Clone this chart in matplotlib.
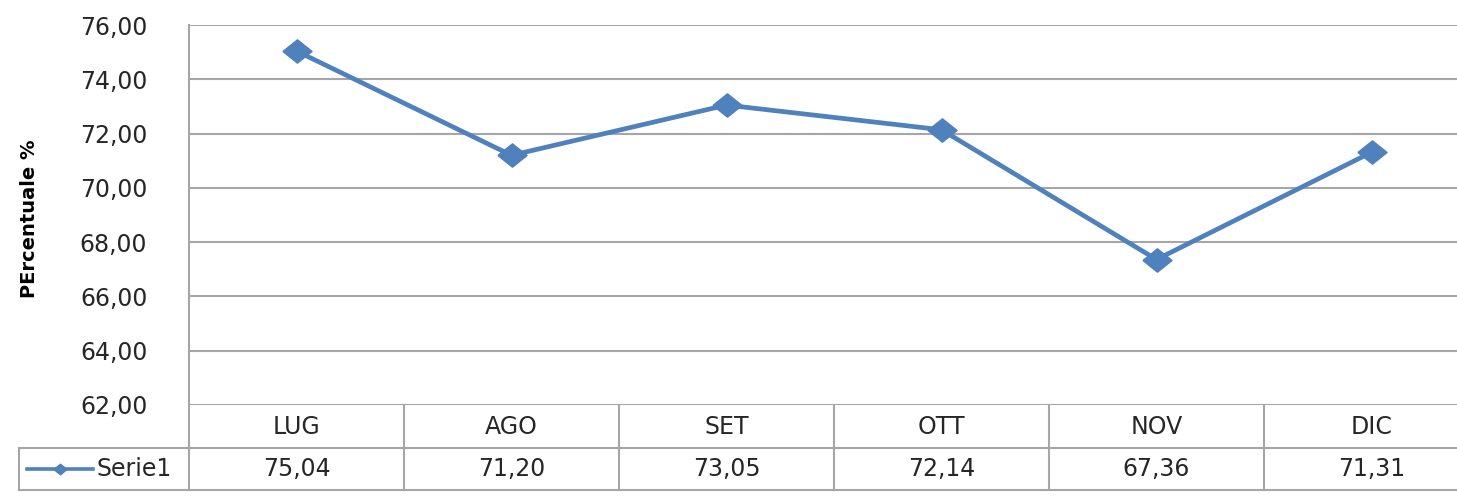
import numpy as np
import matplotlib
matplotlib.use("Agg")
import matplotlib.pyplot as plt
import matplotlib.transforms as mtransforms

# data
months = ["LUG", "AGO", "SET", "OTT", "NOV", "DIC"]
serie1 = [75.04, 71.20, 73.05, 72.14, 67.36, 71.31]
series_name = "Serie1"
y_ticks = [62, 64, 66, 68, 70, 72, 74, 76]

W, H = 1457, 497
BLUE = "#4F81BD"
GRID = "#A6A6A6"
TXT = "#262626"
FS = 17

plt.rcParams['font.family'] = ['DejaVu Sans']

# wide diamond, like the stretched excel marker
diamond = [(-1.25, 0), (0, 1), (1.25, 0), (0, -1), (-1.25, 0)]

fig = plt.figure(figsize=(W / 100, H / 100), dpi=100)
# plot area runs past the right edge (chart is cropped in the reference)
ax = fig.add_axes([189 / W, 1 - 405 / H, 1290 / W, 380 / H])

x = np.arange(len(months))
ax.plot(x, serie1, color=BLUE, lw=3.4, marker=diamond, ms=21, zorder=3)

ax.set_xlim(-0.5, len(months) - 0.5)
ax.set_ylim(y_ticks[0], y_ticks[-1])
ax.set_yticks(y_ticks)
ax.set_yticklabels([f"{v:.2f}".replace(".", ",") for v in y_ticks], fontsize=FS, color=TXT)
ax.tick_params(axis="y", length=0, pad=30)
ax.set_xticks([])
ax.grid(axis="y", color=GRID, lw=1.5)
ax.set_axisbelow(True)
for s in ["top", "right", "bottom"]:
    ax.spines[s].set_visible(False)
ax.spines["left"].set_color(GRID)
ax.spines["left"].set_linewidth(1.5)

ax.set_ylabel("PErcentuale %", fontsize=14, fontweight="bold", color="black", labelpad=0)
ax.yaxis.set_label_coords(-0.116, 0.49)

# data table under the plot
tr = mtransforms.blended_transform_factory(ax.transData, ax.transAxes)
col_px = 215.0
def px2x(px):
    return -0.5 + (px - 189) / col_px

r1 = -43 / 380
r2 = -85 / 380
lw_t = 1.5
left_cell = px2x(19)
ax.plot([-0.5, -0.5], [r2, 0], color=GRID, lw=lw_t, transform=tr, clip_on=False)
for i in range(len(months) - 1):
    ax.plot([i + 0.5, i + 0.5], [r2, 0], color=GRID, lw=lw_t, transform=tr, clip_on=False)
ax.plot([left_cell, len(months) - 0.5], [r1, r1], color=GRID, lw=lw_t, transform=tr, clip_on=False)
ax.plot([left_cell, len(months) - 0.5], [r2, r2], color=GRID, lw=lw_t, transform=tr, clip_on=False)
ax.plot([left_cell, left_cell], [r2, r1], color=GRID, lw=lw_t, transform=tr, clip_on=False)

for i, (m, v) in enumerate(zip(months, serie1)):
    ax.text(i, r1 / 2, m, ha="center", va="center", fontsize=FS, color=TXT, transform=tr, clip_on=False)
    ax.text(i, (r1 + r2) / 2, f"{v:.2f}".replace(".", ","), ha="center", va="center",
            fontsize=FS, color=TXT, transform=tr, clip_on=False)

# legend key in the table
ym = (r1 + r2) / 2
ax.plot([px2x(27), px2x(93)], [ym, ym], color=BLUE, lw=2.6, transform=tr, clip_on=False)
ax.plot([px2x(60)], [ym], color=BLUE, marker=diamond, ms=9.5, transform=tr, clip_on=False)
ax.text(px2x(96), ym, series_name, ha="left", va="center", fontsize=FS, color=TXT,
        transform=tr, clip_on=False)

fig.savefig("out.png", dpi=100)
